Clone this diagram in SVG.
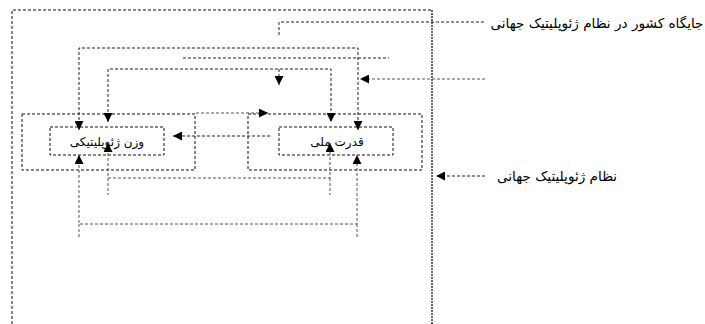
<svg xmlns="http://www.w3.org/2000/svg" width="705" height="324" viewBox="0 0 705 324">
<style>
.box{fill:none;stroke:#111;stroke-width:1;stroke-dasharray:3,2}
.frame{fill:none;stroke:#111;stroke-width:1;stroke-dasharray:3,2}
.frameR{fill:none;stroke:#666;stroke-width:2;stroke-dasharray:2,1}
.c{fill:none;stroke:#222;stroke-width:1;stroke-dasharray:3,2}
.cg{fill:none;stroke:#555;stroke-width:1;stroke-dasharray:3,2}
.t{font-family:"DejaVu Sans","Noto Sans",sans-serif;font-size:12px;fill:#000;text-anchor:middle}
.tl{font-size:13.6px}
</style>
<defs>
<marker id="ah" viewBox="0 0 10 10" refX="10" refY="5" markerWidth="9" markerHeight="9" markerUnits="userSpaceOnUse" orient="auto-start-reverse">
<path d="M0,0 L10,5 L0,10 z" fill="#000"/>
</marker>
</defs>
<rect width="705" height="324" fill="#fff"/>
<g id="frame">
<path class="frame" d="M12,324 V10 H432"/>
<path class="frameR" d="M432,10 V324"/>
</g>
<g id="node-weight">
<rect class="box" x="22" y="114" width="173" height="56"/>
<rect class="box" x="50" y="127" width="114" height="28"/>
<text class="t" x="107" y="146">وزن ژئوپلیتیکی</text>
</g>
<g id="node-power">
<rect class="box" x="248" y="114" width="174" height="56"/>
<rect class="box" x="279" y="127" width="114" height="28"/>
<text class="t" x="337" y="146">قدرت ملی</text>
</g>
<g id="label-position">
<text class="t tl" x="597" y="28">جایگاه کشور در  نظام ژئوپلیتیک جهانی</text>
</g>
<g id="label-system">
<text class="t tl" x="557" y="181">نظام ژئوپلیتیک جهانی</text>
</g>
<g id="connectors">
<path class="c" d="M484,22 H279 V37"/>
<path class="c" d="M79,130 V48 H358 V130" marker-start="url(#ah)" marker-end="url(#ah)"/>
<path class="c" d="M183,58 H389"/>
<path class="c" d="M108,122 V69 H331 V122" marker-start="url(#ah)" marker-end="url(#ah)"/>
<path class="c" d="M279,69 V85" marker-end="url(#ah)"/>
<path class="cg" d="M485,79 H360" marker-end="url(#ah)"/>
<path class="cg" d="M196,113 H268" marker-end="url(#ah)"/>
<path class="c" d="M270,136 H173" marker-end="url(#ah)"/>
<path class="cg" d="M79,155 V224 H357 V155" marker-start="url(#ah)" marker-end="url(#ah)"/>
<path class="cg" d="M79,224 V238 M357,224 V238"/>
<path class="cg" d="M108,143 V178 H330 V143" marker-start="url(#ah)" marker-end="url(#ah)"/>
<path class="cg" d="M108,178 V195 M330,178 V195"/>
<path class="c" d="M485,176 H436" marker-end="url(#ah)"/>
</g>
</svg>
